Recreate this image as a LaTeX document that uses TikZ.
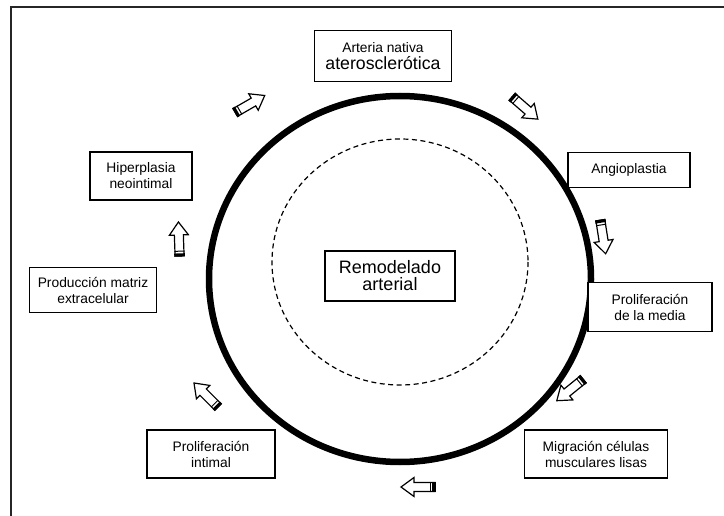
\documentclass[tikz,border=0pt]{standalone}
\usepackage{fontspec}
\setmainfont{Liberation Sans}
\begin{document}
\begin{tikzpicture}[x=1pt,y=-1pt,
  label box/.style={draw=black,line width=1.4pt,fill=white,align=center,
    inner sep=0pt,font=\fontsize{13.8}{16}\selectfont},
  barrow/.pic={
    \draw[line width=1.2pt,fill=white,line join=miter]
      (-17,-4.5) -- (4,-4.5) -- (4,-9.5) -- (17,0) -- (4,9.5) -- (4,4.5) -- (-17,4.5) -- cycle;
    \fill[black] (-17.6,-5.3) rectangle (-14.4,5.3);
    \draw[line width=1pt] (-12.2,-5) -- (-12.2,5);
  }]
\useasboundingbox (0,0) rectangle (724,516);

% page frame (top and left edges)
\draw[line width=2pt,black!85] (11,516) -- (11,7) -- (724,7);

% vessel wall and lumen
\draw[line width=6.5pt] (400,279) ellipse [x radius=191, y radius=183];
\draw[line width=1.2pt,dash pattern=on 5pt off 3.5pt] (400,262) ellipse [x radius=128, y radius=123];

% stages
\node[label box,minimum width=130,minimum height=50] (remod) at (390,276)
  {\fontsize{18}{20}\selectfont Remodelado\\[1pt]\fontsize{18}{20}\selectfont arterial};
\node[label box,minimum width=137,minimum height=51] (nativa) at (383,56)
  {Arteria nativa\\[1pt]\fontsize{17.7}{19}\selectfont ateroscler\'otica};
\node[label box,minimum width=122,minimum height=35] (angio) at (629,170) {Angioplastia};
\node[label box,minimum width=124,minimum height=49] (media) at (650,307) {Proliferaci\'on\\de la media};
\node[label box,minimum width=143,minimum height=48] (migra) at (596,454) {Migraci\'on c\'elulas\\musculares lisas};
\node[label box,minimum width=128,minimum height=48] (intimal) at (211,454) {Proliferaci\'on\\intimal};
\node[label box,minimum width=127,minimum height=45] (matriz) at (93,290) {Producci\'on matriz\\extracelular};
\node[label box,minimum width=102,minimum height=48] (hiper) at (141,176) {Hiperplasia\\neointimal};

% cycle arrows
\pic[rotate=30]   at (250,104) {barrow};
\pic[rotate=-41]  at (525,108) {barrow};
\pic[rotate=-81]  at (603,237) {barrow};
\pic[rotate=-141] at (570,390) {barrow};
\pic[rotate=180]  at (418,487) {barrow};
\pic[rotate=135]  at (206,395) {barrow};
\pic[rotate=92]   at (179,239) {barrow};
\end{tikzpicture}
\end{document}
